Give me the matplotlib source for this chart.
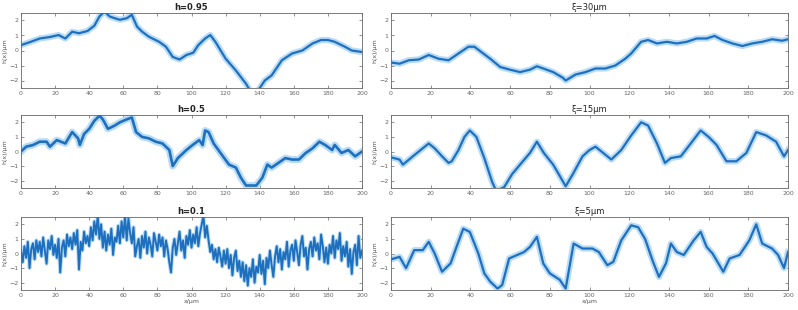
import matplotlib
matplotlib.use("Agg")
import matplotlib.pyplot as plt

# ---- data ----
x_h095 = [0, 5, 11, 17, 22, 26, 30, 34, 39, 43, 46, 49, 52, 55, 58, 62, 65, 68, 71, 75,
          81, 85, 89, 93, 97, 101, 104, 108, 111, 114, 120, 126, 132, 135, 139, 143, 147, 153, 159, 165,
          171, 176, 180, 184, 190, 194, 200]
y_h095 = [0.36, 0.55, 0.8, 0.9, 1.03, 0.8, 1.25, 1.15, 1.3, 1.65, 2.27, 2.6, 2.27, 2.15, 2.05, 2.15, 2.38, 1.6, 1.26, 0.92,
          0.58, 0.25, -0.43, -0.6, -0.3, -0.15, 0.36, 0.8, 1.03, 0.58, -0.54, -1.33, -2.22, -2.8, -2.67, -2.0, -1.66, -0.65, -0.2, 0.0,
          0.47, 0.7, 0.7, 0.58, 0.25, 0.0, -0.1]

x_h05 = [0, 3, 7, 11, 15, 17, 21, 26, 30, 33.5, 34.5, 37, 40, 43, 46, 48, 51, 55, 58, 62,
         65, 67.5, 71, 75, 79, 83, 87, 89, 92, 97, 100.6, 104.5, 106.5, 108, 110, 113, 117, 122, 126, 129,
         132, 138, 141.5, 144.5, 147, 151, 155, 159, 163, 167, 171, 175, 178.5, 182.5, 184, 188, 192, 196, 200]
y_h05 = [0, 0.33, 0.44, 0.67, 0.67, 0.33, 0.78, 0.55, 1.33, 0.9, 0.45, 1.2, 1.55, 2.1, 2.45, 2.2, 1.55, 1.78, 2.0, 2.2,
         2.33, 1.33, 1.0, 0.9, 0.67, 0.55, 0.1, -1.0, -0.45, 0.1, 0.44, 0.78, 0.44, 1.44, 1.33, 0.55, -0.1, -0.9, -1.1, -1.8,
         -2.33, -2.33, -1.8, -0.9, -1.1, -0.78, -0.45, -0.55, -0.55, -0.1, 0.22, 0.67, 0.44, 0.1, 0.45, -0.1, 0.1, -0.33, 0]

x_h01 = list(range(0, 201))
y_h01 = [0.2, -0.6, 0.5, -0.3, 0.8, -1.0, 0.3, 0.7, -0.4, 0.9,
         0.1, 0.8, -0.2, 1.1, 0.2, -0.7, 0.9, 0.3, 1.2, -0.1,
         0.6, -0.3, 1.0, -1.3, 0.4, 0.9, -0.2, 1.3, 0.5, 1.1,
         0.3, 1.4, 0.6, 1.6, -1.1, 0.8, 0.2, 1.5, 0.7, 1.2,
         0.5, 1.8, 0.9, 2.2, 1.3, 2.6, 1.0, 2.0, 0.4, 1.5,
         0.2, 1.3, 0.6, 1.7, -0.1, 1.1, 0.8, 1.9, 0.7, 2.2,
         1.1, 2.6, 0.9, 2.4, 1.4, 0.7, 1.8, -0.2, 0.5, 1.0,
         -0.3, 1.2, 0.4, 1.5, 0.0, 1.1, 0.6, -0.2, 1.4, 0.8,
         0.2, 1.3, 0.5, 1.1, -0.2, 0.9, 0.3, -0.6, -1.3, 0.4,
         1.0, -0.1, 0.7, 1.5, 0.2, 0.9, -0.3, 1.2, 0.6, 1.6,
         0.4, 1.3, 0.7, 1.8, 0.5, 1.4, 2.0, 2.6, 1.1, 1.9,
         0.9, 0.1, 0.6, -0.4, 0.3, -0.6, 0.4, -0.2, -0.9, 0.2,
         -0.7, 0.3, -1.0, -0.1, -1.5, -0.3, 0.2, -1.2, -0.5, -1.6,
         -0.6, -1.9, -0.8, -2.2, -1.0, -1.6, -0.4, -2.0, -0.9, -1.3,
         -0.1, -1.4, -0.5, -2.1, -0.3, -1.0, 0.2, -0.8, -1.6, -0.2,
         0.5, -0.6, 0.3, -1.1, 0.1, -0.4, 0.8, -0.9, 0.2, 0.6,
         -0.5, 0.9, 0.1, -0.8, 0.6, 1.2, -0.2, 0.4, -1.1, 0.3,
         0.8, -0.2, 1.1, 0.2, 0.7, -0.4, 1.3, 0.5, -0.6, 0.4,
         -0.7, 0.6, 0.0, 1.2, -0.3, 0.9, 0.3, 1.4, -0.5, 0.5,
         -0.2, 0.8, -0.9, 0.3, -1.4, 0.1, 0.6, -0.8, 1.2, -0.3,
         0.2]

x_xi30 = [0, 4.3, 9, 14, 19, 24, 29, 34, 39, 42, 45.5, 50, 55, 60, 65, 70, 73.5, 76.7, 81.7, 86.6,
          88, 93, 98, 103, 108, 113, 118, 121, 126, 129.5, 134, 139, 144, 149, 154, 159, 163, 167, 172, 177,
          182, 187, 192, 197, 200]
y_xi30 = [-0.8, -0.88, -0.65, -0.6, -0.3, -0.55, -0.65, -0.2, 0.25, 0.25, -0.1, -0.55, -1.1, -1.28, -1.44, -1.28, -1.05, -1.2, -1.44, -1.82,
          -2.0, -1.6, -1.44, -1.2, -1.2, -1.0, -0.55, -0.2, 0.58, 0.7, 0.47, 0.58, 0.47, 0.58, 0.8, 0.8, 0.97, 0.7, 0.47, 0.3,
          0.47, 0.58, 0.75, 0.65, 0.75]

x_xi15 = [0, 4.3, 6, 11, 14, 19, 22, 25.7, 29, 30.6, 34, 37, 39.7, 43, 47, 51, 53, 57, 61, 65,
          70, 73.5, 77, 81.7, 85, 88, 91.6, 96.5, 100, 103, 106, 111, 116, 121, 126, 129.5, 134, 138, 141, 146,
          151, 156, 160, 164, 169, 174, 179, 184, 189, 194, 198, 200]
y_xi15 = [-0.4, -0.55, -0.9, -0.33, 0, 0.55, 0.22, -0.33, -0.78, -0.67, 0.1, 1.0, 1.44, 1.0, -0.45, -2.1, -2.7, -2.44, -1.55, -0.9,
          -0.1, 0.67, -0.1, -0.9, -1.67, -2.38, -1.55, -0.33, 0.1, 0.33, 0, -0.55, 0.1, 1.1, 2.0, 1.78, 0.55, -0.78, -0.45, -0.33,
          0.55, 1.44, 1.0, 0.45, -0.67, -0.67, -0.1, 1.33, 1.1, 0.67, -0.33, 0.1]

x_xi5 = [0, 4.3, 7.6, 11.7, 16, 19, 22, 25.7, 30, 33, 36.4, 39.7, 44, 47, 50, 53.7, 56, 59.5, 63.6, 67,
         70, 73.5, 76.7, 80, 85, 88, 92, 96.5, 101.5, 104.7, 109, 112, 116, 121, 124.5, 128, 132, 135, 138.5, 141,
         144, 147.5, 152.5, 156, 159, 162, 167.4, 170.6, 175.6, 180.5, 184, 187, 192, 195, 198, 200]
y_xi5 = [-0.4, -0.23, -1.0, 0.23, 0.23, 0.8, 0, -1.25, -0.68, 0.45, 1.7, 1.48, 0, -1.36, -1.93, -2.4, -2.16, -0.34, -0.1, 0.1,
         0.45, 1.14, -0.68, -1.36, -1.8, -2.4, 0.68, 0.34, 0.34, 0.1, -0.8, -0.57, 0.9, 1.93, 1.8, 1.0, -0.57, -1.6, -0.68, 0.68,
         0.1, -0.1, 0.9, 1.48, 0.45, 0, -1.25, -0.34, -0.1, 0.9, 2.0, 0.68, 0.34, -0.1, -1.0, 0.1]

left_titles = ["h=0.95", "h=0.5", "h=0.1"]
right_titles = ["ξ=30μm", "ξ=15μm", "ξ=5μm"]
x_ticks = [0, 20, 40, 60, 80, 100, 120, 140, 160, 180, 200]
y_ticks = [-2, -1, 0, 1, 2]
y_label = "h(x)/μm"
x_label = "x/μm"

# ---- figure ----
plt.rcParams['font.family'] = ['DejaVu Sans']
W, H = 798, 310
fig = plt.figure(figsize=(W / 100, H / 100), dpi=100)

def frac(left, top, right, bottom):
    return [left / W, 1 - bottom / H, (right - left) / W, (bottom - top) / H]

rows = [(13, 88), (115, 188), (217, 290)]
col_left = (21, 362)
col_right = (391, 788)

blue = '#1f6fbf'
halo = '#b9dcf6'

left_data = [(x_h095, y_h095, 'smooth'), (x_h05, y_h05, 'smooth'), (x_h01, y_h01, 'noisy')]
right_data = [(x_xi30, y_xi30), (x_xi15, y_xi15), (x_xi5, y_xi5)]

def style(ax, title, bold, last):
    ax.set_xlim(0, 200)
    ax.set_ylim(-2.5, 2.5)
    ax.set_xticks(x_ticks)
    ax.set_yticks(y_ticks)
    ax.tick_params(direction='in', length=2, width=0.5, labelsize=4.5,
                   colors='#666666', top=True, right=True, pad=2)
    for s in ax.spines.values():
        s.set_color('#666666')
        s.set_linewidth(0.6)
    ax.set_title(title, fontsize=6, fontweight='bold' if bold else 'normal', pad=2, color='#222222')
    ax.set_ylabel(y_label, fontsize=4.5, labelpad=1, color='#555555')
    if last:
        ax.set_xlabel(x_label, fontsize=4.5, labelpad=1, color='#555555')

for i, (top, bottom) in enumerate(rows):
    ax = fig.add_axes(frac(col_left[0], top, col_left[1], bottom))
    xs, ys, kind = left_data[i]
    if kind == 'smooth':
        ax.plot(xs, ys, color=halo, lw=4.5 if i == 0 else 5.0, solid_joinstyle='round')
        ax.plot(xs, ys, color=blue, lw=1.6 if i == 0 else 1.9)
    else:
        ax.plot(xs, ys, color=halo, lw=2.8)
        ax.plot(xs, ys, color=blue, lw=1.4)
    style(ax, left_titles[i], True, i == 2)

    ax = fig.add_axes(frac(col_right[0], top, col_right[1], bottom))
    xs, ys = right_data[i]
    ax.plot(xs, ys, color=halo, lw=4.5, solid_joinstyle='round')
    ax.plot(xs, ys, color=blue, lw=1.6)
    style(ax, right_titles[i], False, i == 2)

fig.savefig('out.png', dpi=100)
